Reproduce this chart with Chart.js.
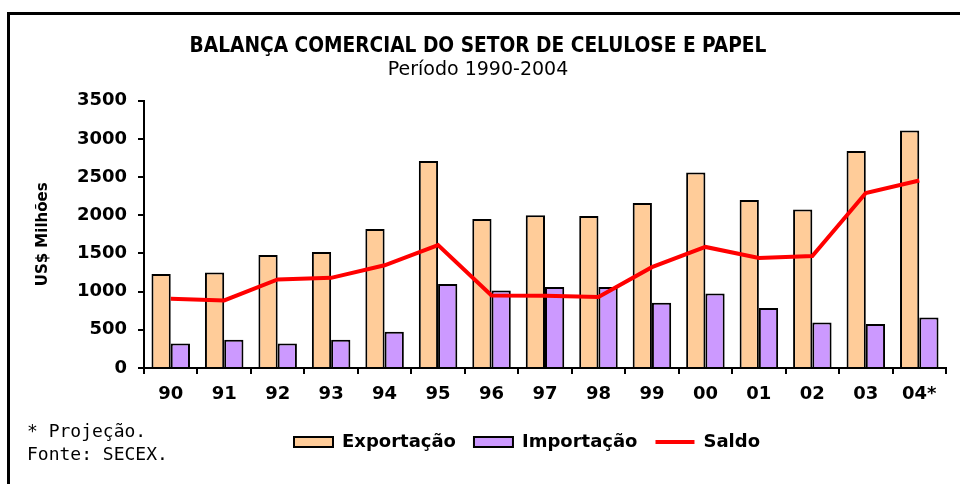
<!DOCTYPE html>
<html>
<head>
<meta charset="utf-8">
<script src="https://cdn.jsdelivr.net/npm/chart.js@4"></script>
<style>
	html, body { margin: 0; padding: 0; background: #fff; }
	#box { width: 960px; height: 484px; }
</style>
</head>
<body>
<div id="box"><canvas id="grafico_balanca"></canvas></div>
<script>
var anos = ["90", "91", "92", "93", "94", "95", "96", "97", "98", "99", "00", "01", "02", "03", "04*"];
var exportacao = [1230, 1250, 1480, 1520, 1820, 2710, 1950, 2000, 1990, 2160, 2560, 2200, 2075, 2840, 3110];
var importacao = [320, 370, 320, 370, 475, 1100, 1015, 1060, 1060, 855, 975, 785, 595, 575, 660];
var saldo = [905, 885, 1160, 1180, 1345, 1610, 950, 945, 930, 1320, 1585, 1440, 1465, 2290, 2455];

var titulo = "BALANÇA COMERCIAL DO SETOR DE CELULOSE E PAPEL";
var subtitulo = "Período 1990-2004";
var notas = ["* Projeção.", "Fonte: SECEX."];

var fonte = "'DejaVu Sans', Verdana, sans-serif";

// moldura e notas de rodape
var moldura = {
	id: "moldura",
	afterUpdate: function (chart) {
		// legenda comeca mais a direita, como no original
		chart.legend.left = 276;
	},
	afterDraw: function (chart) {
		var ctx = chart.ctx;
		ctx.save();
		ctx.strokeStyle = "#000";
		ctx.lineWidth = 3;
		ctx.beginPath();
		ctx.moveTo(8.5, 484);
		ctx.lineTo(8.5, 13.5);
		ctx.lineTo(960, 13.5);
		ctx.stroke();

		ctx.fillStyle = "#000";
		ctx.font = "18px 'DejaVu Sans Mono', monospace";
		ctx.textBaseline = "middle";
		ctx.textAlign = "left";
		ctx.fillText(notas[0], 27, 432);
		ctx.fillText(notas[1], 27, 455);
		ctx.restore();
	}
};

var config = {
	type: "bar",
	data: {
		labels: anos,
		datasets: [
			{
				label: "Exportação",
				data: exportacao,
				backgroundColor: "#FFCC99",
				borderColor: "#000",
				borderWidth: 2,
				pointStyle: "rect",
				order: 1,
				categoryPercentage: 0.72,
				barPercentage: 1.0,
			},
			{
				label: "Importação",
				data: importacao,
				backgroundColor: "#CC99FF",
				borderColor: "#000",
				borderWidth: 2,
				pointStyle: "rect",
				order: 1,
				categoryPercentage: 0.72,
				barPercentage: 1.0,
			},
			{
				type: "line",
				label: "Saldo",
				data: saldo,
				borderColor: "#FF0000",
				backgroundColor: "#FF0000",
				borderWidth: 4,
				pointRadius: 0,
				pointStyle: "line",
				tension: 0,
				fill: false,
				order: 0,
			},
		],
	},
	options: {
		responsive: true,
		maintainAspectRatio: false,
		animation: false,
		layout: {
			padding: { top: 20, left: 10, right: 14, bottom: 23 },
		},
		scales: {
			x: {
				grid: {
					offset: true,
					drawOnChartArea: false,
					color: "#000",
					lineWidth: 2,
					tickLength: 6,
				},
				border: { color: "#000", width: 2 },
				ticks: {
					color: "#000",
					padding: 10,
					font: { family: fonte, size: 18, weight: "bold" },
				},
				afterFit: function (scale) {
					scale.height = 47;
				},
			},
			y: {
				min: 0,
				max: 3500,
				ticks: {
					stepSize: 500,
					color: "#000",
					padding: 11,
					font: { family: fonte, size: 18, weight: "bold" },
					callback: function (valor) {
						return String(valor);
					},
				},
				grid: {
					drawOnChartArea: false,
					color: "#000",
					lineWidth: 2,
					tickLength: 6,
				},
				border: { color: "#000", width: 2 },
				title: {
					display: true,
					text: "US$ Milhões",
					color: "#000",
					padding: { top: 24, bottom: 0 },
					font: { family: fonte, size: 15, weight: "bold" },
				},
				afterFit: function (scale) {
					scale.width = 134;
				},
			},
		},
		plugins: {
			title: {
				display: true,
				text: titulo,
				color: "#000",
				padding: { top: 14, bottom: 0 },
				font: { family: "'DejaVu Sans Condensed', 'DejaVu Sans', sans-serif", size: 20.7, weight: "bold" },
			},
			subtitle: {
				display: true,
				text: subtitulo,
				color: "#000",
				padding: { top: 0, bottom: 19 },
				font: { family: fonte, size: 19 },
			},
			legend: {
				position: "bottom",
				align: "start",
				labels: {
					color: "#000",
					usePointStyle: true,
					pointStyleWidth: 39,
					boxHeight: 10,
					padding: 18,
					font: { family: fonte, size: 18, weight: "bold" },
					sort: function (a, b) {
						return a.datasetIndex - b.datasetIndex;
					},
				},
			},
			tooltip: { enabled: false },
		},
	},
	plugins: [moldura],
};

var myChart = new Chart(document.getElementById("grafico_balanca"), config);
</script>
</body>
</html>
